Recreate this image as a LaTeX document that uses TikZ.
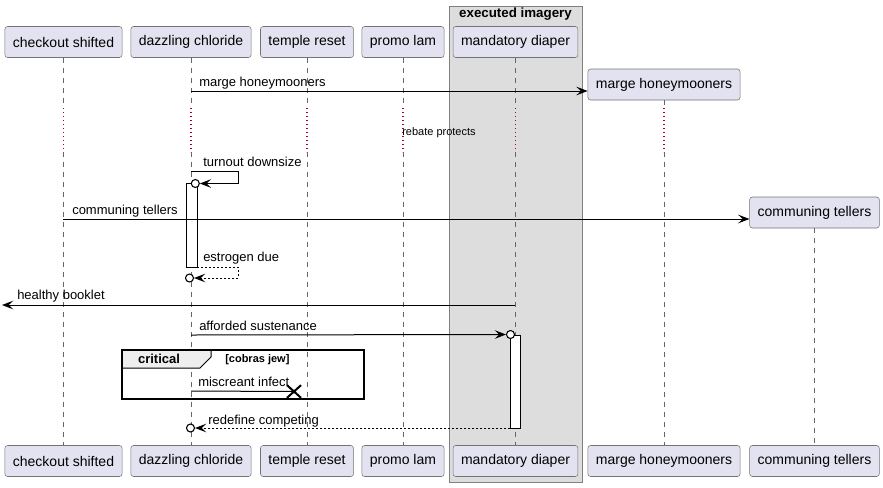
\documentclass[tikz,border=0pt]{standalone}
\usepackage{fontspec}
\setmainfont{Liberation Sans}
\usetikzlibrary{arrows.meta,shapes.misc}
\definecolor{partfill}{HTML}{E2E2F0}
\definecolor{boxfill}{HTML}{DDDDDD}
\definecolor{tabfill}{HTML}{EEEEEE}
\definecolor{delayred}{HTML}{A80036}

\begin{document}
\begin{tikzpicture}[x=0.75pt,y=-0.75pt,
  part_node/.style={draw=black!55,fill=partfill,rounded corners=2pt,minimum height=23.25pt,inner xsep=6pt,inner ysep=0pt,font=\fontsize{10.5}{12}\selectfont},
  msg_text/.style={anchor=base west,inner sep=0pt,font=\fontsize{9.75}{11}\selectfont},
  life_line/.style={draw=black!60,line width=0.5pt,dash pattern=on 3.75pt off 3.75pt},
  delay_line/.style={draw=delayred,line width=0.8pt,dash pattern=on 0.8pt off 2.2pt},
  msg_line/.style={line width=0.75pt,-{Stealth[length=8.5pt,width=6.5pt,inset=3.5pt]}},
  ret_line/.style={msg_line,dash pattern=on 1.5pt off 1.5pt},
  act_bar/.style={draw,fill=white,line width=0.75pt},
  end_circ/.style={circle,draw,fill=white,line width=0.8pt,minimum size=6pt,inner sep=0pt}]
    \useasboundingbox (0,0) rectangle (883,487);
    % box round mandatory diaper
    \draw[draw=black!50,fill=boxfill,line width=0.75pt] (449,6) rectangle (582,482);
    \node[font=\bfseries\fontsize{10}{12}\selectfont] (grp) at (515.5,14) {executed imagery};
    % participants
    \node[part_node] (cs) at (63.5,42) {checkout shifted};
    \node[part_node] (dc) at (191,42) {dazzling chloride};
    \node[part_node] (tr) at (307,42) {temple reset};
    \node[part_node] (pl) at (403,42) {promo lam};
    \node[part_node] (md) at (515.5,42) {mandatory diaper};
    \node[part_node] (mh) at (664,84.5) {marge honeymooners};
    \node[part_node] (ct) at (814.5,212.5) {communing tellers};
    \node[part_node] (cs_b) at (63.5,461) {checkout shifted};
    \node[part_node] (dc_b) at (191,461) {dazzling chloride};
    \node[part_node] (tr_b) at (307,461) {temple reset};
    \node[part_node] (pl_b) at (403,461) {promo lam};
    \node[part_node] (md_b) at (515.5,461) {mandatory diaper};
    \node[part_node] (mh_b) at (664,461) {marge honeymooners};
    \node[part_node] (ct_b) at (814.5,461) {communing tellers};
    % lifelines, with the delay
    \foreach \p in {cs,dc,tr,pl,md,mh} {
        \draw[life_line] (\p.south) -- (\p.south |- 0,108);
        \draw[delay_line] (\p.south |- 0,108) -- (\p.south |- 0,152);
        \draw[life_line] (\p.south |- 0,152) -- (\p_b.north);
    }
    \draw[life_line] (ct.south) -- (ct_b.north);
    \node[anchor=west,inner sep=0pt,font=\fontsize{8.25}{10}\selectfont] (dly) at (402,133) {rebate protects};
    % activations
    \draw[act_bar] (186,183) rectangle (197,267);
    \draw[act_bar] (510,335) rectangle (520,428);
    \node[end_circ] (o1) at (195.3,183.5) {};
    \node[end_circ] (o2) at (189.5,278) {};
    \node[end_circ] (o3) at (510.5,334.5) {};
    \node[end_circ] (o4) at (190.5,428) {};
    % messages
    \coordinate (m1) at (191,91);
    \coordinate (m2) at (191,171);
    \coordinate (m3) at (63,219);
    \coordinate (m4) at (197,267);
    \coordinate (m5) at (515,305);
    \coordinate (m5e) at (2,305);
    \coordinate (m6) at (191,335);
    \coordinate (m7) at (191,391);
    \coordinate (m8) at (510,428);
    \draw[msg_line] (m1) -- (mh.west |- m1);
    \draw[msg_line] (m2) -- (238,171) -- (238,183.5) -- (o1.east);
    \draw[msg_line] (m3) -- (ct.west |- m3);
    \draw[ret_line] (m4) -- (238,267) -- (238,278) -- (o2.east);
    \draw[msg_line] (m5) -- (m5e);
    \draw[msg_line] (m6) -- (o3.west);
    \node[cross out,draw,line width=1.5pt,minimum width=9pt,minimum height=8pt,inner sep=0pt] (x1) at (294,391.5) {};
    \draw[line width=0.75pt] (m7) -- (x1.center);
    \draw[ret_line] (m8) -- (o4.east);
    \node[msg_text] (t1) at (199,86) {marge honeymooners};
    \node[msg_text] (t2) at (203,166) {turnout downsize};
    \node[msg_text] (t3) at (72,214) {communing tellers};
    \node[msg_text] (t4) at (203,261) {estrogen due};
    \node[msg_text] (t5) at (17,299) {healthy booklet};
    \node[msg_text] (t6) at (199,330.5) {afforded sustenance};
    \node[msg_text] (t7) at (198,386) {miscreant infect};
    \node[msg_text] (t8) at (208,424) {redefine competing};
    % critical
    \draw[fill=tabfill,line width=0.75pt] (122,350) -- (211,350) -- (211,357) -- (200,368) -- (122,368) -- cycle;
    \draw[line width=1.5pt] (122,350) rectangle (364,399);
    \node[font=\bfseries\fontsize{9.75}{11}\selectfont] (crit) at (159,359) {critical};
    \node[anchor=west,inner sep=0pt,font=\bfseries\fontsize{8.25}{10}\selectfont] (cond) at (225,360) {[cobras jew]};
\end{tikzpicture}
\end{document}
